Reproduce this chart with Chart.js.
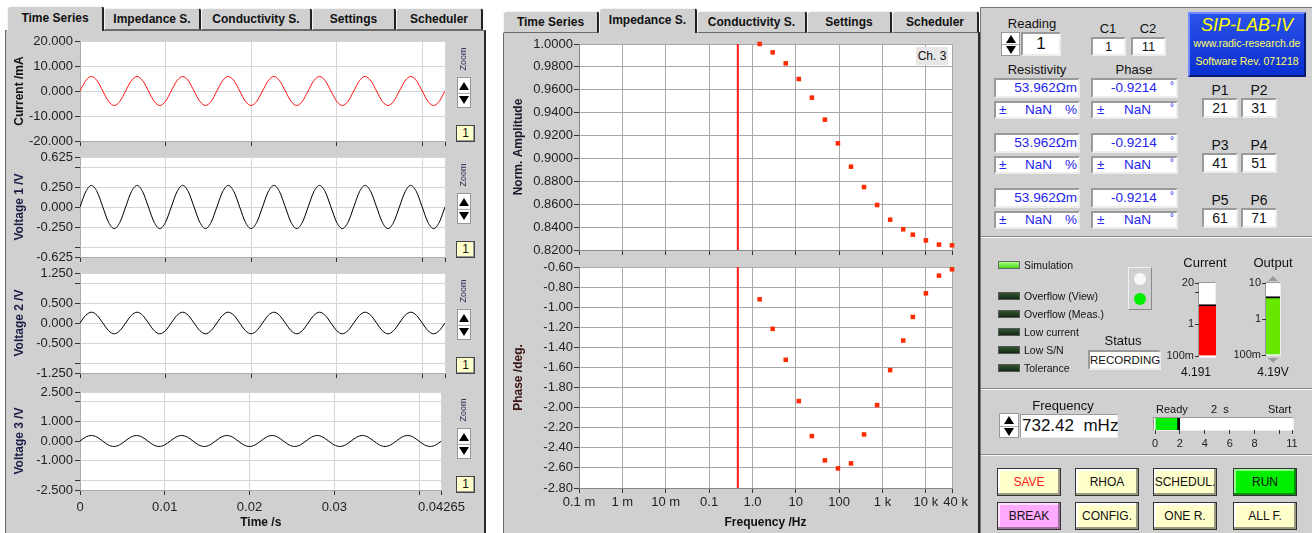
<!DOCTYPE html>
<html><head><meta charset="utf-8">
<script src="https://cdn.jsdelivr.net/npm/chart.js@4.4.1/dist/chart.umd.min.js"></script>
<style>
*{box-sizing:border-box}
body{margin:0;width:1312px;height:533px;overflow:hidden;background:#fff;font-family:'Liberation Sans',Arial,sans-serif;position:relative;color:#111}
.pn{position:absolute;background:#d0d0d0;border:1px solid #6a6a6a;border-right:2px solid #2a2a2a}
.tab{position:absolute;background:#d0d0d0;border-top:1px solid #f4f4f4;border-left:1px solid #f4f4f4;border-right:2px solid #222;border-bottom:1px solid #6a6a6a;font-weight:bold;font-size:12px;text-align:center;border-radius:3px 3px 0 0;color:#111}
.tab.sel{border-bottom:none;z-index:3}
.cv{position:absolute;z-index:2}
.t{position:absolute;white-space:nowrap;line-height:1;z-index:4}
.c{text-align:center}
.sunk{position:absolute;background:#fff;border:2px solid;border-color:#9a9a9a #ededed #ededed #9a9a9a;z-index:3}
.spin{position:absolute;background:#fff;border:1px solid #999;z-index:4}
.spin .u,.spin .d{position:absolute;left:50%;margin-left:-5px;width:0;height:0;border-left:5px solid transparent;border-right:5px solid transparent}
.spin .u{border-bottom:8px solid #000}
.spin .d{border-top:8px solid #000}
.spin .m{position:absolute;left:0;right:0;border-top:1px solid #aaa}
.zb{position:absolute;background:#ffffcc;border:1px solid #444;box-shadow:inset -1px -1px 0 #999;font-size:12px;text-align:center;line-height:15px;z-index:4}
.zoomt{position:absolute;font-size:9px;color:#2a2a55;transform:rotate(-90deg);white-space:nowrap;z-index:4}
.led{position:absolute;width:22px;height:8px;border:1px solid #555;background:linear-gradient(#2f5530,#142814);z-index:4}
.led.on{background:linear-gradient(#b0ff80,#49d81c);border-color:#666}
.lt{position:absolute;font-size:10.5px;white-space:nowrap;line-height:1;z-index:4}
.btn{position:absolute;width:64px;height:28px;border:1px solid #333;box-shadow:inset -2px -2px 0 #9a9a80,inset 2px 2px 0 #fff;background:#ffffcc;font-size:12px;text-align:center;line-height:27px;z-index:4}
.sep{position:absolute;left:981px;width:331px;height:2px;border-top:1px solid #8a8a8a;border-bottom:1px solid #f4f4f4;z-index:3}
.blue{color:#2424f0}
</style>
</head><body>

<!-- left panel -->
<div class="pn" style="left:5px;top:30px;width:481px;height:520px"></div>
<div class="tab sel" style="left:7px;top:6px;width:97px;height:25px;line-height:23px">Time Series</div>
<div class="tab" style="left:104px;top:8px;width:97px;height:22px;line-height:21px">Impedance S.</div>
<div class="tab" style="left:201px;top:8px;width:111px;height:22px;line-height:21px">Conductivity S.</div>
<div class="tab" style="left:312px;top:8px;width:84px;height:22px;line-height:21px">Settings</div>
<div class="tab" style="left:396px;top:8px;width:87px;height:22px;line-height:21px">Scheduler</div>

<!-- middle panel -->
<div class="pn" style="left:503px;top:32px;width:477px;height:520px"></div>
<div class="tab" style="left:503px;top:11px;width:96px;height:22px;line-height:21px">Time Series</div>
<div class="tab sel" style="left:599px;top:8px;width:98px;height:25px;line-height:23px">Impedance S.</div>
<div class="tab" style="left:697px;top:11px;width:110px;height:22px;line-height:21px">Conductivity S.</div>
<div class="tab" style="left:807px;top:11px;width:85px;height:22px;line-height:21px">Settings</div>
<div class="tab" style="left:892px;top:11px;width:87px;height:22px;line-height:21px">Scheduler</div>

<!-- right panel -->
<div style="position:absolute;left:980px;top:7px;width:334px;height:530px;background:#d0d0d0;border-left:1px solid #777;border-top:1px solid #777"></div>

<!-- chart canvases -->
<div class="cv" style="left:8px;top:29px;width:462px;height:122px"><canvas id="c1"></canvas></div>
<div class="cv" style="left:8px;top:145px;width:462px;height:122px"><canvas id="c2"></canvas></div>
<div class="cv" style="left:8px;top:261px;width:462px;height:122px"><canvas id="c3"></canvas></div>
<div class="cv" style="left:8px;top:380px;width:462px;height:154px"><canvas id="c4"></canvas></div>
<div class="cv" style="left:507px;top:32px;width:465px;height:228px"><canvas id="amp"></canvas></div>
<div class="cv" style="left:507px;top:255px;width:465px;height:279px"><canvas id="pha"></canvas></div>

<div class="t" style="left:916px;top:47px;width:32px;height:18px;background:#e6e6e6;font-size:12px;line-height:18px;text-align:center;z-index:5">Ch. 3</div>

<div id="zooms"></div>

<!-- right panel content -->
<div class="t c" style="left:992px;top:17px;width:80px;font-size:13px">Reading</div>
<div class="spin" style="left:1001px;top:32px;width:19px;height:24px"><div class="u" style="top:2px"></div><div class="m" style="top:11px"></div><div class="d" style="top:13px"></div></div>
<div class="sunk" style="left:1021px;top:32px;width:40px;height:24px;font-size:17px;text-align:center;line-height:20px">1</div>
<div class="t c" style="left:1088px;top:22px;width:40px;font-size:13px">C1</div>
<div class="t c" style="left:1128px;top:22px;width:40px;font-size:13px">C2</div>
<div class="sunk" style="left:1091px;top:37px;width:35px;height:19px;font-size:13px;text-align:center;line-height:15px">1</div>
<div class="sunk" style="left:1131px;top:37px;width:35px;height:19px;font-size:13px;text-align:center;line-height:15px">11</div>
<div style="position:absolute;left:1188px;top:12px;width:118px;height:65px;background:linear-gradient(#2c52ec,#0a2fd0);border:2px solid;border-color:#6f8cff #0a1a70 #0a1a70 #6f8cff;z-index:4"></div>
<div class="t c" style="left:1188px;top:16px;width:118px;font-size:18px;font-style:italic;color:#ffff00">SIP-LAB-IV</div>
<div class="t c" style="left:1188px;top:38px;width:118px;font-size:10.5px;color:#ffff66">www.radic-research.de</div>
<div class="t c" style="left:1188px;top:56px;width:118px;font-size:10.5px;color:#ffff66">Software Rev. 071218</div>
<div class="t c" style="left:992px;top:63px;width:90px;font-size:13px">Resistivity</div>
<div class="t c" style="left:1094px;top:63px;width:80px;font-size:13px">Phase</div>
<div id="rows"></div>

<div class="sep" style="top:236px"></div>
<div id="leds"></div>
<div style="position:absolute;left:1128px;top:267px;width:24px;height:43px;border:1px solid;border-color:#f0f0f0 #888 #888 #f0f0f0;z-index:4"></div>
<div style="position:absolute;left:1134px;top:273px;width:12px;height:12px;border-radius:50%;background:#f8f8f8;z-index:5"></div>
<div style="position:absolute;left:1134px;top:293px;width:12px;height:12px;border-radius:50%;background:#00ee00;z-index:5"></div>
<div class="t c" style="left:1088px;top:334px;width:70px;font-size:13px">Status</div>
<div class="sunk" style="left:1088px;top:350px;width:73px;height:20px;font-size:11.5px;text-align:center;line-height:16px">RECORDING</div>
<div class="t c" style="left:1170px;top:256px;width:70px;font-size:13px">Current</div>
<div class="t c" style="left:1238px;top:256px;width:70px;font-size:13px">Output</div>
<div style="position:absolute;left:1198px;top:282px;width:18px;height:76px;background:#fff;border:1px solid;border-color:#999 #eee #eee #999;z-index:1"></div>
<div style="position:absolute;left:1265px;top:282px;width:16px;height:74px;background:#fff;border:1px solid;border-color:#999 #eee #eee #999;z-index:1"></div>
<div style="position:absolute;left:1268px;top:276px;width:0;height:0;border-left:5px solid transparent;border-right:5px solid transparent;border-bottom:5px solid #999;z-index:4"></div>
<div style="position:absolute;left:1268px;top:358px;width:0;height:0;border-left:5px solid transparent;border-right:5px solid transparent;border-top:5px solid #999;z-index:4"></div>
<div class="t c" style="left:1166px;top:366px;width:60px;font-size:12px">4.191</div>
<div class="t c" style="left:1243px;top:366px;width:60px;font-size:12px">4.19V</div>
<div class="cv" style="left:1150px;top:275px;width:66px;height:89px"><canvas id="gI"></canvas></div>
<div class="cv" style="left:1216px;top:275px;width:64px;height:88px"><canvas id="gO"></canvas></div>

<div class="sep" style="top:388px"></div>
<div class="t c" style="left:1023px;top:399px;width:80px;font-size:13px">Frequency</div>
<div class="spin" style="left:999px;top:413px;width:20px;height:25px"><div class="u" style="top:2px"></div><div class="m" style="top:12px"></div><div class="d" style="top:14px"></div></div>
<div class="sunk" style="left:1020px;top:414px;width:98px;height:24px;border-width:1px;font-size:17px;line-height:22px;padding-left:1px;white-space:pre">732.42  mHz</div>
<div class="t" style="left:1156px;top:404px;font-size:11px">Ready</div>
<div class="t" style="left:1211px;top:404px;font-size:11px;white-space:pre">2  s</div>
<div class="t" style="left:1268px;top:404px;font-size:11px">Start</div>
<div style="position:absolute;left:1153px;top:417px;width:141px;height:14px;background:#fff;border:1px solid;border-color:#999 #eee #eee #999;z-index:1"></div>
<div class="cv" style="left:1140px;top:410px;width:167px;height:42px"><canvas id="gP"></canvas></div>

<div class="sep" style="top:454px"></div>
<div class="btn" style="left:997px;top:468px;color:#ff2020">SAVE</div>
<div class="btn" style="left:1075px;top:468px">RHOA</div>
<div class="btn" style="left:1153px;top:468px">SCHEDUL.</div>
<div class="btn" style="left:1233px;top:468px;background:#00ee00;box-shadow:inset -2px -2px 0 #0a8a0a,inset 2px 2px 0 #90ff90">RUN</div>
<div class="btn" style="left:997px;top:502px;background:#ffaaff;box-shadow:inset -2px -2px 0 #a070a0,inset 2px 2px 0 #ffe0ff">BREAK</div>
<div class="btn" style="left:1075px;top:502px">CONFIG.</div>
<div class="btn" style="left:1153px;top:502px">ONE R.</div>
<div class="btn" style="left:1233px;top:502px">ALL F.</div>

<script>
// ---------------- data ----------------
const timeS = [0,0.000666,0.001333,0.001999,0.002666,0.003332,0.003998,0.004665,
0.005331,0.005998,0.006664,0.007330,0.007997,0.008663,0.009330,0.009996,
0.010663,0.011329,0.011995,0.012662,0.013328,0.013995,0.014661,0.015327,
0.015994,0.016660,0.017327,0.017993,0.018659,0.019326,0.019992,0.020659,
0.021325,0.021991,0.022658,0.023324,0.023991,0.024657,0.025323,0.025990,
0.026656,0.027323,0.027989,0.028655,0.029322,0.029988,0.030655,0.031321,
0.031988,0.032654,0.033320,0.033987,0.034653,0.035320,0.035986,0.036652,
0.037319,0.037985,0.038652,0.039318,0.039984,0.040651,0.041317,0.041984,0.04265];
const currentMA = [0,4.1,5.8,4.1,0,-4.1,-5.8,-4.1, 0,4.1,5.8,4.1,0,-4.1,-5.8,-4.1,
0,4.1,5.8,4.1,0,-4.1,-5.8,-4.1, 0,4.1,5.8,4.1,0,-4.1,-5.8,-4.1,
0,4.1,5.8,4.1,0,-4.1,-5.8,-4.1, 0,4.1,5.8,4.1,0,-4.1,-5.8,-4.1,
0,4.1,5.8,4.1,0,-4.1,-5.8,-4.1, 0,4.1,5.8,4.1,0,-4.1,-5.8,-4.1, 0];
const voltage1 = [0,0.19,0.27,0.19,0,-0.19,-0.27,-0.19, 0,0.19,0.27,0.19,0,-0.19,-0.27,-0.19,
0,0.19,0.27,0.19,0,-0.19,-0.27,-0.19, 0,0.19,0.27,0.19,0,-0.19,-0.27,-0.19,
0,0.19,0.27,0.19,0,-0.19,-0.27,-0.19, 0,0.19,0.27,0.19,0,-0.19,-0.27,-0.19,
0,0.19,0.27,0.19,0,-0.19,-0.27,-0.19, 0,0.19,0.27,0.19,0,-0.19,-0.27,-0.19, 0];
const voltage2 = [0,0.19,0.27,0.19,0,-0.19,-0.27,-0.19, 0,0.19,0.27,0.19,0,-0.19,-0.27,-0.19,
0,0.19,0.27,0.19,0,-0.19,-0.27,-0.19, 0,0.19,0.27,0.19,0,-0.19,-0.27,-0.19,
0,0.19,0.27,0.19,0,-0.19,-0.27,-0.19, 0,0.19,0.27,0.19,0,-0.19,-0.27,-0.19,
0,0.19,0.27,0.19,0,-0.19,-0.27,-0.19, 0,0.19,0.27,0.19,0,-0.19,-0.27,-0.19, 0];
const voltage3 = [0,0.2,0.28,0.2,0,-0.2,-0.28,-0.2, 0,0.2,0.28,0.2,0,-0.2,-0.28,-0.2,
0,0.2,0.28,0.2,0,-0.2,-0.28,-0.2, 0,0.2,0.28,0.2,0,-0.2,-0.28,-0.2,
0,0.2,0.28,0.2,0,-0.2,-0.28,-0.2, 0,0.2,0.28,0.2,0,-0.2,-0.28,-0.2,
0,0.2,0.28,0.2,0,-0.2,-0.28,-0.2, 0,0.2,0.28,0.2,0,-0.2,-0.28,-0.2, 0];

const timeTicks = [0, 0.01, 0.02, 0.03, 0.04, 0.04265];
const timeTickLabels = ['0', '0.01', '0.02', '0.03', '', '0.04265'];
const curTicks = [20, 10, 0, -10, -20];
const curTickLabels = ['20.000', '10.000', '0.000', '-10.000', '-20.000'];
const v1Ticks = [0.625, 0.5, 0.25, 0, -0.25, -0.5, -0.625];
const v1TickLabels = ['0.625', '', '0.250', '0.000', '-0.250', '', '-0.625'];
const v2Ticks = [1.25, 1, 0.5, 0, -0.5, -1, -1.25];
const v2TickLabels = ['1.250', '', '0.500', '0.000', '-0.500', '', '-1.250'];
const v3Ticks = [2.5, 2, 1, 0, -1, -2, -2.5];
const v3TickLabels = ['2.500', '', '1.000', '0.000', '-1.000', '', '-2.500'];

const freqHz = [1.4648, 2.9297, 5.8594, 11.719, 23.438, 46.875, 93.75, 187.5, 375, 750, 1500, 3000, 5000, 10000, 20000, 40000];
const normAmp = [1.0000, 0.9927, 0.9831, 0.9694, 0.9531, 0.9339, 0.9132, 0.8928, 0.8750, 0.8593, 0.8465, 0.8381, 0.8334, 0.8284, 0.8247, 0.8241];
const phaseDeg = [-0.9214, -1.216, -1.524, -1.935, -2.283, -2.525, -2.605, -2.555, -2.267, -1.975, -1.627, -1.332, -1.097, -0.862, -0.686, -0.623];
const cursorHz = [0.46];
const freqTicks = [1e-4, 1e-3, 1e-2, 0.1, 1, 10, 100, 1000, 10000, 40000];
const freqTickLabels = ['0.1 m', '1 m', '10 m', '0.1', '1.0', '10', '100', '1 k', '10 k', '  40 k'];
const ampTicks = [1.00, 0.98, 0.96, 0.94, 0.92, 0.90, 0.88, 0.86, 0.84, 0.82];
const ampTickLabels = ['1.0000', '0.9800', '0.9600', '0.9400', '0.9200', '0.9000', '0.8800', '0.8600', '0.8400', '0.8200'];
const phaTicks = [-0.6, -0.8, -1.0, -1.2, -1.4, -1.6, -1.8, -2.0, -2.2, -2.4, -2.6, -2.8];
const phaTickLabels = ['-0.60', '-0.80', '-1.00', '-1.20', '-1.40', '-1.60', '-1.80', '-2.00', '-2.20', '-2.40', '-2.60', '-2.80'];

const currentGauge = [4.191];
const currentGaugeTicks = [0.1, 1, 10, 20];
const currentGaugeLabels = ['100m', '1', '', '20'];
const outputGauge = [4.19];
const outputGaugeTicks = [0.1, 1, 10];
const outputGaugeLabels = ['100m', '1', '10'];
const progressSec = [2];
const progressTicks = [0, 2, 4, 6, 8, 10, 11];
const progressLabels = ['0', '2', '4', '6', '8', '', '11'];

// ---------------- static UI helpers ----------------
const chartTops = [41, 157, 273, 392];
let zh = '';
chartTops.forEach(T => {
  zh += `<div class="zoomt" style="left:451px;top:${T+13}px;width:24px;text-align:center">Zoom</div>`;
  zh += `<div class="spin" style="left:457px;top:${T+36}px;width:14px;height:31px"><div class="u" style="top:4px"></div><div class="m" style="top:15px"></div><div class="d" style="top:18px"></div></div>`;
  zh += `<div class="zb" style="left:456px;top:${T+84}px;width:19px;height:17px">1</div>`;
});
document.getElementById('zooms').innerHTML = zh;

let rh = '';
[78, 133, 188].forEach(y => {
  rh += `<div class="sunk blue" style="left:994px;top:${y}px;width:86px;height:20px;font-size:13.5px;text-align:right;line-height:16px;padding-right:1px">53.962Ωm</div>`;
  rh += `<div class="sunk blue" style="left:994px;top:${y+23}px;width:86px;height:18px;font-size:13.5px;line-height:14px"><span style="position:absolute;left:3px">±</span><span style="position:absolute;left:29px">NaN</span><span style="position:absolute;right:1px">%</span></div>`;
  rh += `<div class="sunk blue" style="left:1091px;top:${y}px;width:87px;height:20px;font-size:13.5px;line-height:16px"><span style="position:absolute;left:18px">-0.9214</span><span style="position:absolute;right:2px;top:-2px;font-size:10px">°</span></div>`;
  rh += `<div class="sunk blue" style="left:1091px;top:${y+23}px;width:87px;height:18px;font-size:13.5px;line-height:14px"><span style="position:absolute;left:4px">±</span><span style="position:absolute;left:31px">NaN</span><span style="position:absolute;right:2px;top:-2px;font-size:10px">°</span></div>`;
});
[[90, 98, 'P1', 'P2', '21', '31'], [145, 153, 'P3', 'P4', '41', '51'], [200, 208, 'P5', 'P6', '61', '71']].forEach(r => {
  rh += `<div class="t c" style="left:1200px;top:${r[0]-7}px;width:40px;font-size:14px">${r[2]}</div>`;
  rh += `<div class="t c" style="left:1239px;top:${r[0]-7}px;width:40px;font-size:14px">${r[3]}</div>`;
  rh += `<div class="sunk" style="left:1202px;top:${r[1]}px;width:36px;height:20px;font-size:14px;text-align:center;line-height:16px">${r[4]}</div>`;
  rh += `<div class="sunk" style="left:1241px;top:${r[1]}px;width:36px;height:20px;font-size:14px;text-align:center;line-height:16px">${r[5]}</div>`;
});
document.getElementById('rows').innerHTML = rh;

let lh = '';
[[261, 'Simulation', true], [292, 'Overflow (View)'], [310, 'Overflow (Meas.)'], [328, 'Low current'], [346, 'Low S/N'], [364, 'Tolerance']].forEach(l => {
  lh += `<div class="led${l[2] ? ' on' : ''}" style="left:998px;top:${l[0]}px"></div>`;
  lh += `<div class="lt" style="left:1024px;top:${l[0]-1}px">${l[1]}</div>`;
});
document.getElementById('leds').innerHTML = lh;

// ---------------- charts ----------------
Chart.defaults.font.family = "'Liberation Sans', Arial, sans-serif";
Chart.defaults.font.size = 13;
Chart.defaults.color = '#222';
Chart.defaults.animation = false;
Chart.defaults.plugins.legend.display = false;
Chart.defaults.plugins.tooltip.enabled = false;
Chart.register({
  id: 'plotBg',
  beforeDraw(c, a, o) {
    if (!o || !o.color) return;
    const ca = c.chartArea, x = c.ctx;
    x.save(); x.fillStyle = o.color;
    x.fillRect(ca.left, ca.top, ca.right - ca.left, ca.bottom - ca.top);
    x.restore();
  }
});
const setTicks = vals => s => { s.ticks = vals.map(v => ({ value: v })); };

function timeChart(id, ys, color, tks, tkl, title, titleColor, bottom) {
  return new Chart(document.getElementById(id), {
    type: 'line',
    data: { datasets: [{ data: timeS.map((t, i) => ({ x: t, y: ys[i] })), borderColor: color, borderWidth: 1,
      pointRadius: 0, cubicInterpolationMode: 'monotone', fill: false }] },
    options: {
      responsive: true, maintainAspectRatio: false,
      layout: { padding: { top: 12, right: 25, left: 0, bottom: 0 } },
      plugins: { plotBg: { color: '#ffffff' } },
      scales: {
        x: { type: 'linear', min: 0, max: 0.04265,
          afterBuildTicks: setTicks(timeTicks), afterFit: s => { s.height = bottom ? 44 : 10; },
          grid: { color: '#d6d6d6', tickColor: '#333', tickLength: 5 }, border: { color: '#aaa' },
          ticks: { display: bottom, padding: 5, maxRotation: 0, minRotation: 0, autoSkip: false, color: '#222',
            callback: (v, i) => timeTickLabels[i] },
          title: { display: bottom, text: 'Time /s', font: { size: 12, weight: 'bold' }, color: '#111', padding: { top: 0, bottom: 4 } } },
        y: { min: tks[tks.length - 1], max: tks[0],
          afterBuildTicks: setTicks(tks), afterFit: s => { s.width = 72; },
          grid: { color: '#d6d6d6', tickColor: '#333', tickLength: 5 }, border: { color: '#aaa' },
          ticks: { autoSkip: false, padding: 2, color: '#222', callback: (v, i) => tkl[i] },
          title: { display: true, text: title, font: { size: 12, weight: 'bold' }, color: titleColor } }
      }
    }
  });
}
timeChart('c1', currentMA, '#ff1010', curTicks, curTickLabels, 'Current /mA', '#111', false);
timeChart('c2', voltage1, '#000', v1Ticks, v1TickLabels, 'Voltage 1 /V', '#1c1c44', false);
timeChart('c3', voltage2, '#000', v2Ticks, v2TickLabels, 'Voltage 2 /V', '#1c1c44', false);
timeChart('c4', voltage3, '#000', v3Ticks, v3TickLabels, 'Voltage 3 /V', '#1c1c44', true);

function impChart(id, ys, tks, tkl, title, titleColor, bottom) {
  const mn = tks[tks.length - 1], mx = tks[0];
  return new Chart(document.getElementById(id), {
    type: 'scatter',
    data: { datasets: [
      { data: [{ x: cursorHz[0], y: mx }, { x: cursorHz[0], y: mn }], showLine: true, borderColor: '#ff1a1a', borderWidth: 2, pointRadius: 0 },
      { data: freqHz.map((f, i) => ({ x: f, y: ys[i] })), pointStyle: 'rect', pointRadius: 3.2, backgroundColor: '#ff2a00', borderWidth: 0, clip: false }
    ] },
    options: {
      responsive: true, maintainAspectRatio: false,
      layout: { padding: { top: 12, right: 20, left: 0, bottom: 0 } },
      plugins: { plotBg: { color: '#ffffff' } },
      scales: {
        x: { type: 'logarithmic', min: 1e-4, max: 4e4,
          afterBuildTicks: setTicks(freqTicks), afterFit: s => { s.height = bottom ? 46 : 10; },
          grid: { color: '#a8a8a8', tickColor: '#333', tickLength: 5 }, border: { color: '#888' },
          ticks: { display: bottom, padding: 2, maxRotation: 0, minRotation: 0, autoSkip: false, color: '#222',
            callback: (v, i) => freqTickLabels[i] },
          title: { display: bottom, text: 'Frequency /Hz', font: { size: 12, weight: 'bold' }, color: '#111', padding: { top: 0, bottom: 4 } } },
        y: { min: mn, max: mx,
          afterBuildTicks: setTicks(tks), afterFit: s => { s.width = 72; },
          grid: { color: '#a8a8a8', tickColor: '#333', tickLength: 5 }, border: { color: '#888' },
          ticks: { autoSkip: false, padding: 1, color: '#222', callback: (v, i) => tkl[i] },
          title: { display: true, text: title, font: { size: 12, weight: 'bold' }, color: titleColor } }
      }
    }
  });
}
impChart('amp', normAmp, ampTicks, ampTickLabels, 'Norm. Amplitude', '#1a1a2a', false);
impChart('pha', phaseDeg, phaTicks, phaTickLabels, 'Phase /deg.', '#3a1414', true);

function gauge(id, vals, mn, mx, tks, tkl, color, yWidth) {
  return new Chart(document.getElementById(id), {
    type: 'bar',
    data: { labels: [''], datasets: [{ data: vals, base: mn, backgroundColor: color, borderColor: '#000',
      borderWidth: { top: 2, left: 0, right: 0, bottom: 0 }, borderSkipped: 'start', barPercentage: 1, categoryPercentage: 1 }] },
    options: {
      responsive: true, maintainAspectRatio: false,
      layout: { padding: { top: 8, right: 0, left: 0, bottom: 8 } },
      scales: {
        x: { display: false },
        y: { type: 'logarithmic', min: mn, max: mx,
          afterBuildTicks: setTicks(tks), afterFit: s => { s.width = yWidth; },
          grid: { drawOnChartArea: false, tickColor: '#333', tickLength: 4 }, border: { display: false },
          ticks: { autoSkip: false, padding: 1, font: { size: 11 }, color: '#222', callback: (v, i) => tkl[i] } }
      }
    }
  });
}
gauge('gI', currentGauge, 0.1, 20, currentGaugeTicks, currentGaugeLabels, '#ff0000', 49);
gauge('gO', outputGauge, 0.1, 10, outputGaugeTicks, outputGaugeLabels, '#66e800', 50);

new Chart(document.getElementById('gP'), {
  type: 'bar',
  data: { labels: [''], datasets: [{ data: progressSec, backgroundColor: '#00ee00', borderColor: '#000',
    borderWidth: { right: 3, left: 0, top: 0, bottom: 0 }, borderSkipped: 'start', barPercentage: 1, categoryPercentage: 1 }] },
  options: {
    indexAxis: 'y', responsive: true, maintainAspectRatio: false,
    layout: { padding: { top: 8, right: 15, left: 15, bottom: 0 } },
    scales: {
      y: { display: false },
      x: { type: 'linear', min: 0, max: 11,
        afterBuildTicks: setTicks(progressTicks), afterFit: s => { s.height = 22; },
        grid: { drawOnChartArea: false, tickColor: '#333', tickLength: 4, offset: false }, border: { display: false },
        ticks: { autoSkip: false, padding: 3, maxRotation: 0, font: { size: 11 }, color: '#222', callback: (v, i) => progressLabels[i] } }
    }
  }
});
</script>
</body></html>
